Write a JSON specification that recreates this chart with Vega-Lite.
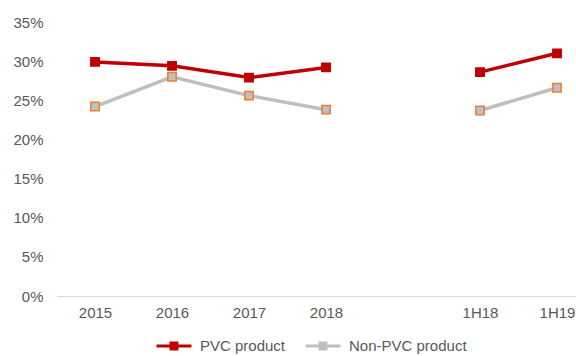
{
  "$schema": "https://vega.github.io/schema/vega-lite/v6.json",
  "width": 519,
  "height": 274,
  "autosize": {"type": "none"},
  "padding": {"left": 57, "top": 22, "right": 0, "bottom": 60},
  "background": "white",
  "config": {
    "view": {"stroke": null},
    "font": "Liberation Sans",
    "axis": {"labelFont": "Liberation Sans", "labelColor": "#595959", "labelFontSize": 15},
    "legend": {"labelFont": "Liberation Sans", "labelColor": "#595959", "labelFontSize": 15}
  },
  "data": {
    "values": [
      {"series": "Non-PVC product", "period": "2015", "grp": "annual", "value": 0.242},
      {"series": "Non-PVC product", "period": "2016", "grp": "annual", "value": 0.280},
      {"series": "Non-PVC product", "period": "2017", "grp": "annual", "value": 0.256},
      {"series": "Non-PVC product", "period": "2018", "grp": "annual", "value": 0.238},
      {"series": "Non-PVC product", "period": "1H18", "grp": "half", "value": 0.237},
      {"series": "Non-PVC product", "period": "1H19", "grp": "half", "value": 0.266},
      {"series": "PVC product", "period": "2015", "grp": "annual", "value": 0.299},
      {"series": "PVC product", "period": "2016", "grp": "annual", "value": 0.294},
      {"series": "PVC product", "period": "2017", "grp": "annual", "value": 0.279},
      {"series": "PVC product", "period": "2018", "grp": "annual", "value": 0.292},
      {"series": "PVC product", "period": "1H18", "grp": "half", "value": 0.286},
      {"series": "PVC product", "period": "1H19", "grp": "half", "value": 0.310}
    ]
  },
  "encoding": {
    "x": {
      "field": "period",
      "type": "ordinal",
      "sort": null,
      "scale": {"type": "point", "domain": ["2015", "2016", "2017", "2018", " ", "1H18", "1H19"], "padding": 0.37, "align": 0.667},
      "axis": {"title": null, "labelAngle": 0, "ticks": false, "domainColor": "#D9D9D9", "domainWidth": 1, "labelPadding": 9, "grid": false}
    },
    "y": {
      "field": "value",
      "type": "quantitative",
      "scale": {"domain": [0, 0.35], "nice": false},
      "axis": {"title": null, "format": ".0%", "values": [0, 0.05, 0.1, 0.15, 0.2, 0.25, 0.3, 0.35], "ticks": false, "domain": false, "grid": false, "labelPadding": 14}
    }
  },
  "layer": [
    {
      "mark": {"type": "line", "strokeWidth": 3.5},
      "encoding": {
        "detail": {"field": "grp"},
        "color": {
          "field": "series",
          "type": "nominal",
          "scale": {"domain": ["PVC product", "Non-PVC product"], "range": ["#C00000", "#BFBFBF"]},
          "legend": {
            "title": null,
            "orient": "none",
            "direction": "horizontal",
            "legendX": 98,
            "legendY": 305,
            "symbolType": "M-1,0H1M-0.17,-0.17H0.17V0.17H-0.17Z",
            "symbolSize": 1225,
            "symbolStrokeWidth": 3,
            "labelOffset": 7,
            "columnPadding": 13,
            "encode": {
              "symbols": {
                "update": {
                  "fill": {"scale": "color", "field": "value"},
                  "stroke": {"scale": "color", "field": "value"},
                  "fillOpacity": {"value": 1}
                }
              }
            }
          }
        }
      }
    },
    {
      "mark": {"type": "point", "shape": "square", "filled": true, "size": 70, "strokeWidth": 1.5, "opacity": 1},
      "encoding": {
        "fill": {
          "field": "series",
          "type": "nominal",
          "scale": {"domain": ["PVC product", "Non-PVC product"], "range": ["#C00000", "#BFBFBF"]},
          "legend": null
        },
        "stroke": {
          "field": "series",
          "type": "nominal",
          "scale": {"domain": ["PVC product", "Non-PVC product"], "range": ["#C00000", "#ED7D31"]},
          "legend": null
        }
      }
    }
  ]
}
